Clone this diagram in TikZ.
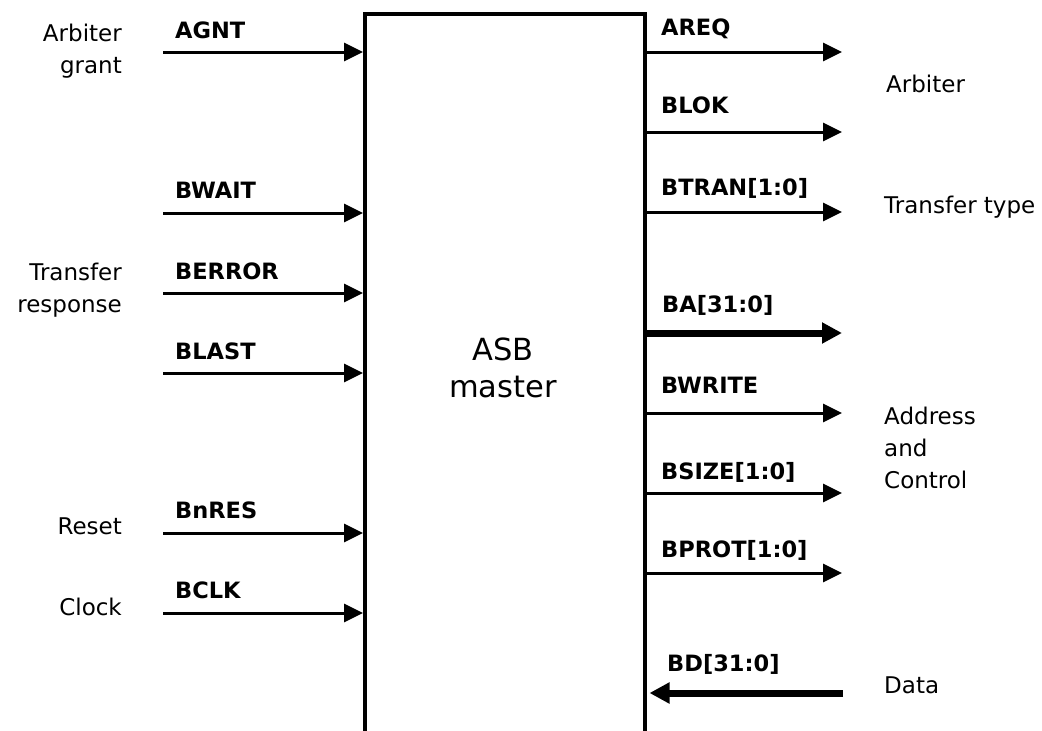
\documentclass[tikz,border=0pt]{standalone}
\usepackage{fontspec}
\setmainfont{DejaVu Sans}
\usetikzlibrary{arrows.meta}

\begin{document}
\begin{tikzpicture}[x=1pt, y=-1pt,
  sig/.style={line width=3pt, -{Triangle[length=19pt,width=18pt]}},
  bus/.style={line width=7pt, -{Triangle[length=20pt,width=20pt]}},
  siglabel/.style={font=\fontsize{22.5}{24}\selectfont\bfseries, anchor=base west, inner sep=0pt},
  sigdesc/.style={font=\fontsize{23}{32}\selectfont, inner sep=0pt}]

  % picture area
  \useasboundingbox (0,0) rectangle (1042,731);
  \clip (0,0) rectangle (1042,731);

  % master block, running past the lower edge
  \node[draw, line width=3.5pt, minimum width=280pt, minimum height=760pt,
        inner sep=0pt, anchor=north west] (asb) at (363,12) {};
  \node[font=\fontsize{30.5}{37}\selectfont, align=center] (asbname) at (503,368) {ASB\\master};

  % inputs
  \foreach \y/\t/\s [count=\i] in {52/38/AGNT, 213/198/BWAIT, 293/279/BERROR,
      373/359/BLAST, 533/518/BnRES, 613/598/BCLK}{
    \coordinate (in\i) at (163,\y);
    \draw[sig] (in\i) -- (in\i -| asb.west);
    \node[siglabel] (inlab\i) at (175,\t) {\s};
  }

  % outputs
  \foreach \y/\t/\s [count=\i] in {52/35/AREQ, 132/113/BLOK, 212/195/{BTRAN[1:0]},
      413/393/BWRITE, 493/479/{BSIZE[1:0]}, 573/557/{BPROT[1:0]}}{
    \coordinate (out\i) at (842,\y);
    \draw[sig] (out\i -| asb.east) -- (out\i);
    \node[siglabel] (outlab\i) at (661,\t) {\s};
  }

  % address bus and data bus
  \coordinate (ba) at (842,333);
  \draw[bus] (ba -| asb.east) -- (ba);
  \node[siglabel] (balab) at (662,312) {BA[31:0]};

  \coordinate (bd) at (843,693);
  \draw[bus, shorten >=3pt] (bd) -- (bd -| asb.east);
  \node[siglabel] (bdlab) at (667,671) {BD[31:0]};

  % descriptions
  \node[sigdesc, align=right, anchor=north east] (dgrant) at (122,24) {Arbiter\\grant};
  \node[sigdesc, align=right, anchor=north east] (dresp) at (122,263) {Transfer\\response};
  \node[sigdesc, anchor=base east] (dreset) at (122,534) {Reset};
  \node[sigdesc, anchor=base east] (dclock) at (122,615) {Clock};

  \node[sigdesc, anchor=base west] (darb) at (886,92) {Arbiter};
  \node[sigdesc, anchor=base west] (dtype) at (884,213) {Transfer type};
  \node[sigdesc, align=left, anchor=north west] (dctrl) at (884,407) {Address\\and\\Control};
  \node[sigdesc, anchor=base west] (ddata) at (884,693) {Data};

\end{tikzpicture}
\end{document}
